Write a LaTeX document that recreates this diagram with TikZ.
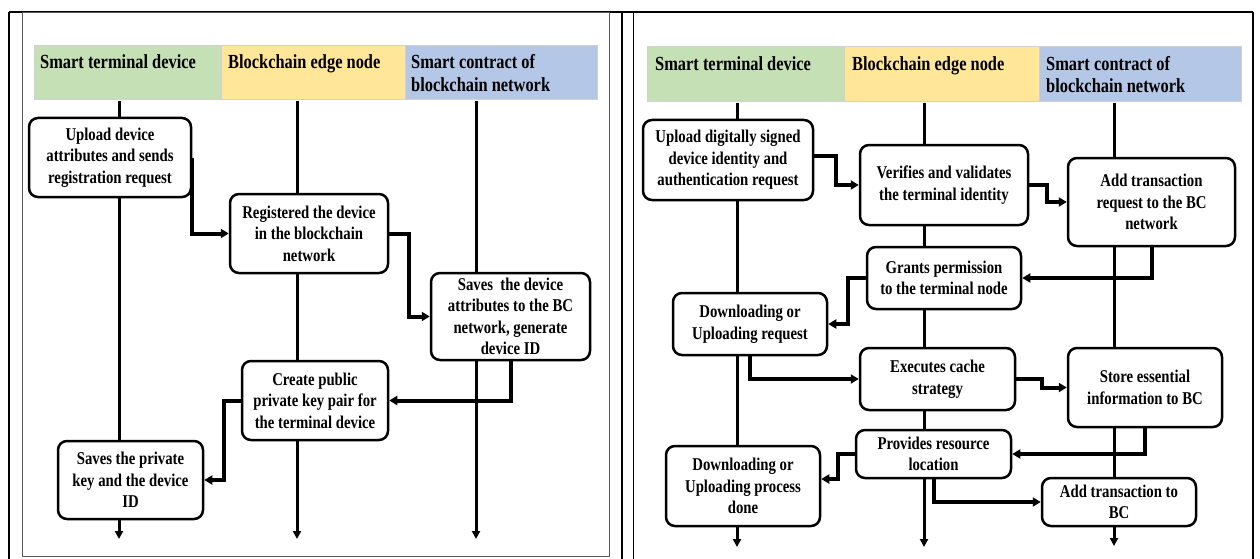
\documentclass[tikz,border=0pt]{standalone}
\usepackage{fontspec}
\setmainfont{Liberation Serif}[FakeStretch=0.82]
\usetikzlibrary{arrows.meta}
\definecolor{hgreen}{HTML}{C5E0B4}
\definecolor{hyellow}{HTML}{FFE699}
\definecolor{hblue}{HTML}{B4C7E7}
\begin{document}
\begin{tikzpicture}[x=1pt,y=-1pt,
  box/.style={draw, line width=2.5pt, rounded corners=9pt, fill=white, align=center, inner sep=1pt,
    font=\bfseries\fontsize{18}{21.5}\selectfont},
  lifeline/.style={line width=3pt, -{Triangle[length=8pt,width=8pt]}},
  flow/.style={line width=4pt, -{Triangle[length=8pt,width=9pt]}},
  hdr/.style={draw=black!18, line width=0.8pt, anchor=north west, inner sep=0pt},
  hdrtxt/.style={anchor=north west, inner sep=0pt, align=left, font=\bfseries\fontsize{20}{22.3}\selectfont},
  frame/.style={line width=2pt},
  inframe/.style={line width=0.9pt, black!65}]
\useasboundingbox (0,0) rectangle (1260,559);
% frames
\draw[frame] (9,12) -- (1253,12);
\draw[frame] (9,12) -- (9,559);
\draw[frame] (622,12) -- (622,559);
\draw[frame] (1253,12) -- (1253,559);
\draw[line width=1.6pt] (633.5,12) -- (633.5,559);
\draw[inframe] (22,12) rectangle (609,556);

% ---------------- left panel ----------------
\node[hdr, fill=hgreen, minimum width=186, minimum height=54] (hLa) at (34,45) {};
\node[hdr, fill=hyellow, minimum width=184, minimum height=54] (hLb) at (221,45) {};
\node[hdr, fill=hblue, minimum width=192, minimum height=54] (hLc) at (405,45) {};
\node[hdrtxt] (tLa) at (40,54.5) {Smart terminal device};
\node[hdrtxt] (tLb) at (228,54.5) {Blockchain edge node};
\node[hdrtxt] (tLc) at (411,54.5) {Smart contract of\\blockchain network};

\coordinate (L1s) at (119,101); \coordinate (L1e) at (119,539);
\coordinate (L2s) at (297,101); \coordinate (L2e) at (297,539);
\coordinate (L3s) at (476,101); \coordinate (L3e) at (476,539);
\draw[lifeline] (L1s) -- (L1e);
\draw[lifeline] (L2s) -- (L2e);
\draw[lifeline] (L3s) -- (L3e);

\node[box, minimum width=162, minimum height=79] (B1) at (110,157.5) {Upload device\\attributes and sends\\registration request};
\node[box, minimum width=158, minimum height=79] (B2) at (309,233.5) {Registered the device\\in the blockchain\\network};
\node[box, minimum width=159, minimum height=87] (B3) at (510.5,316.5) {Saves\ \ the device\\attributes to the BC\\network, generate\\device ID};
\node[box, minimum width=146, minimum height=79] (B4) at (315,400.5) {Create public\\private key pair for\\the terminal device};
\node[box, minimum width=145, minimum height=78] (B5) at (130.5,480) {Saves the private\\key and the device\\ID};

\draw[flow] (B1.east) |- (B2.west);
\draw[flow] (B2.east) -- ++(20,0) |- (B3.west);
\draw[flow] (B3.south) |- (B4.east);
\draw[flow] (B4.west) -- ++(-17,0) |- (B5.east);

% ---------------- right panel ----------------
\node[hdr, fill=hgreen, minimum width=197, minimum height=55] (hRa) at (647,46) {};
\node[hdr, fill=hyellow, minimum width=195, minimum height=55] (hRb) at (844,46) {};
\node[hdr, fill=hblue, minimum width=202, minimum height=55] (hRc) at (1039,46) {};
\node[hdrtxt] (tRa) at (655,56) {Smart terminal device};
\node[hdrtxt] (tRb) at (852,56) {Blockchain edge node};
\node[hdrtxt] (tRc) at (1046,56) {Smart contract of\\blockchain network};

\coordinate (R1s) at (737,103); \coordinate (R1e) at (737,547);
\coordinate (R2s) at (924,103); \coordinate (R2e) at (924,547);
\coordinate (R3s) at (1114,103); \coordinate (R3e) at (1114,546);
\draw[lifeline] (R1s) -- (R1e);
\draw[lifeline] (R2s) -- (R2e);
\draw[lifeline] (R3s) -- (R3e);

\node[box, minimum width=170, minimum height=80] (Q1) at (728,160) {Upload digitally signed\\device identity and\\authentication request};
\node[box, minimum width=168, minimum height=80] (Q2) at (944,185) {Verifies and validates\\the terminal identity};
\node[box, minimum width=167, minimum height=88] (Q3) at (1151.5,202) {Add transaction\\request to the BC\\network};
\node[box, minimum width=154, minimum height=62] (Q4) at (944,278) {Grants permission\\to the terminal node};
\node[box, minimum width=154, minimum height=62] (Q5) at (750,324) {Downloading or\\Uploading request};
\node[box, minimum width=155, minimum height=62] (Q6) at (937.5,379) {Executes cache\\strategy};
\node[box, minimum width=154, minimum height=79] (Q7) at (1145,387.5) {Store essential\\information to BC};
\node[box, minimum width=155, minimum height=48] (Q8) at (933.5,454) {Provides resource\\location};
\node[box, minimum width=154, minimum height=80] (Q9) at (743,486) {Downloading or\\Uploading process\\done};
\node[box, minimum width=154, minimum height=48] (Q10) at (1119,502) {Add transaction to\\BC};

\draw[flow] ([yshift=4pt]Q1.east) -- ++(22,0) |- (Q2.west);
\draw[flow] (Q2.east) -- ++(18,0) |- (Q3.west);
\draw[flow] (Q3.south) |- (Q4.east);
\draw[flow] (Q4.west) -- ++(-18,0) |- (Q5.east);
\draw[flow] (Q5.south) |- (Q6.west);
\draw[flow] (Q6.east) -- ++(26,0) |- (Q7.west);
\draw[flow] (Q7.south) |- (Q8.east);
\draw[flow] (Q8.west) -- ++(-17,0) |- ([yshift=7pt]Q9.east);
\draw[flow] (Q8.south) |- (Q10.west);
\end{tikzpicture}
\end{document}
